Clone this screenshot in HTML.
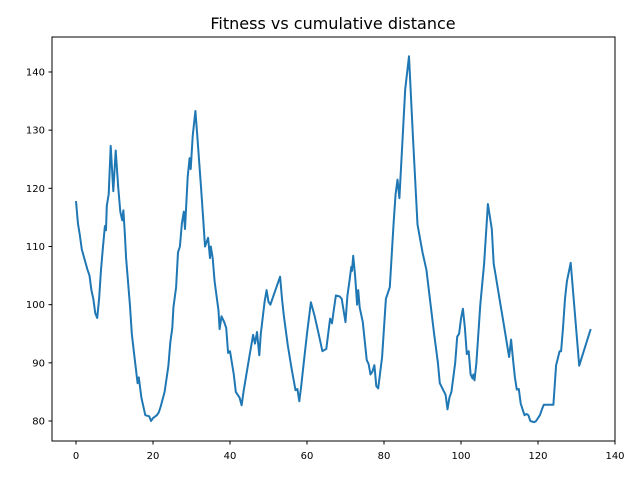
<!DOCTYPE html>
<html><head><meta charset="utf-8"><style>
body{margin:0;background:#fff;}
svg text{font-family:"DejaVu Sans","Liberation Sans",sans-serif;fill:#000;}
</style></head><body>
<svg id="chart" width="640" height="480">
<rect width="640" height="480" fill="#fff"/>
<text x="333" y="29" font-size="16" text-anchor="middle">Fitness vs cumulative distance</text>
<g id="axes"></g>
<path id="line" fill="none" stroke="#1f77b4" stroke-width="2" stroke-linejoin="round"/>
<rect x="52" y="37" width="563" height="404" fill="none" stroke="#000" stroke-width="1"/>
</svg>
<script>
const xs=[0,0.5,1,1.5,3,3.5,4,4.5,5,5.5,6,6.5,7,7.5,7.8,8,8.5,9,9.7,10.3,11,11.5,12,12.3,12.7,13,14,14.5,15,16,16.3,17,18,19,19.5,20,21,21.5,22,23,24,24.5,25,25.3,26,26.5,27,27.5,28,28.3,28.7,29,29.5,29.8,30.3,31,31.5,32.5,33,33.5,34.3,34.8,35,35.5,36,37,37.3,37.8,38.5,39,39.5,40,41,41.5,42.5,43,43.5,44,45,46,46.5,47,47.6,48,49,49.5,50,50.5,51,53,53.5,54,55,56,57,57.5,58,58.5,59,60,61,62,63,64,65,66,66.5,67,67.5,68.5,69,70,70.5,71,71.5,71.7,72,72.5,73,73.3,73.7,74.5,75.5,76,76.5,77,77.5,78,78.5,79.5,80.5,81.5,82.5,83,83.5,84,85.5,86.5,87.5,88.7,90,91,93,94,94.5,96,96.5,97,97.5,98.5,99,99.5,100,100.5,101,101.5,102,102.5,103,103.2,103.5,104,105,106,107,108,108.5,109,110,111,111.5,112,112.5,113,113.5,114,114.5,115,115.5,116,116.5,117,117.5,118,119,119.5,120,120.5,121,121.5,124,124.7,125.6,126,126.5,127,127.5,128.5,130.7,133.7];
const ys=[117.8,114,112,109.5,106,105,102.5,101,98.5,97.7,101,106,110,113.5,112.8,117,119,127.3,119.5,126.5,120,116,114.5,116.2,112,108,100,95,92,86.5,87.5,84,81,80.8,80,80.5,81,81.5,82.5,85,89.5,93.5,96,99.5,103,109,110,114,116,113,118,122,125.2,123.3,129,133.3,129,120,115,110,111.5,108,110,108,104,99,95.8,98,97,96,91.7,92,88,85,84,82.7,85,87,91,94.8,93.3,95.3,91.3,95,100.5,102.5,100.5,100,101,104.8,101,98,93,89,85.3,85.5,83.4,86,89,95,100.4,98,95,92,92.4,97.6,96.8,99.2,101.6,101.4,101,97,101.5,104,106.5,105.8,108.4,105,100,102.5,99.5,97,90.5,89.8,88,88.5,89.6,86,85.6,91,101,103,114,119,121.5,118.3,137,142.7,129,113.8,109,106,95,90,86.5,84.5,82,84,85,90,94.5,95,97.6,99.3,96,91.5,92,88,87.3,88,87,90,100,107,117.3,113,107,105,101,97,95,93,91,94,90.6,87.5,85.4,85.5,83,82,81,81.2,81,80,79.8,80,80.5,81,82,82.8,82.8,89.6,92,92,96,101,104,107.2,89.5,95.8];
const xTicks=[0,20,40,60,80,100,120,140];
const yTicks=[80,90,100,110,120,130,140];
const X=v=>76+v*3.85, Y=v=>421-(v-80)*5.817;
const ns="http://www.w3.org/2000/svg", g=document.getElementById('axes');
function mk(t,a){const e=document.createElementNS(ns,t);for(const k in a)e.setAttribute(k,a[k]);g.appendChild(e);return e;}
xTicks.forEach(v=>{
 const l=mk('line',{x1:X(v),x2:X(v),y1:441,y2:444.5,stroke:'#000'});
 
 
 const t=mk('text',{x:X(v),y:459,'font-size':10,'text-anchor':'middle'});t.textContent=v;
 
 
});
yTicks.forEach(v=>{
 const l=mk('line',{x1:48.5,x2:52,y1:Y(v),y2:Y(v),stroke:'#000'});
 
 
 const t=mk('text',{x:45,y:Y(v)+3.5,'font-size':10,'text-anchor':'end'});t.textContent=v;
 
 
});
const n=Math.min(xs.length,ys.length);
document.getElementById('line').setAttribute('d',xs.slice(0,n).map((x,i)=>(i?'L':'M')+X(x).toFixed(1)+','+Y(ys[i]).toFixed(1)).join(''));
</script>
</body></html>
